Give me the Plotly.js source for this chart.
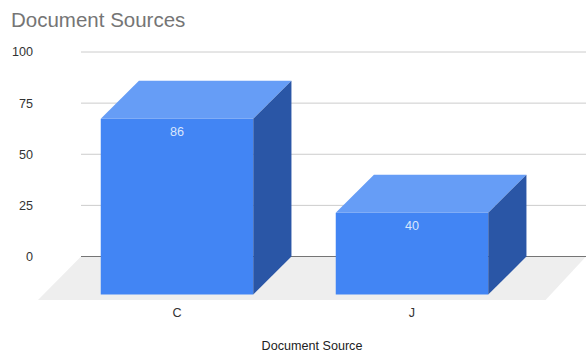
<!DOCTYPE html>
<html>
<head>
<meta charset="utf-8">
<script src="https://cdn.plot.ly/plotly-3.0.1.min.js"></script>
<style>html,body{margin:0;padding:0;background:#fff}</style>
</head>
<body>
<div id="chart" style="width:586px;height:354px"></div>
<script>
// Chart data
const categories = ["C", "J"];
const documentCounts = [86, 40];
const yTicks = [0, 25, 50, 75, 100];

// Oblique projection: how far the front plane sits from the back plane, in axis units
const depthX = 0.1625;
const depthY = 18.6;
const barWidth = 0.649;
const xRange = [-0.5915, 1.7404];
const yRange = [-21.27, 105.87];
const gridStartX = -0.4085;
const fontFamily = "'Liberation Sans', Arial, sans-serif";

const positions = categories.map((_, i) => i);
const half = barWidth / 2;

function face(xs, ys, color) {
  return {
    type: "scatter", mode: "lines", x: xs, y: ys, fill: "toself",
    fillcolor: color, line: { width: 0, color: color },
    hoverinfo: "skip", showlegend: false
  };
}

// Front faces are real bars standing on the front plane
const frontBars = {
  type: "bar",
  x: positions,
  y: documentCounts,
  base: documentCounts.map(() => -depthY),
  width: barWidth,
  marker: { color: "#4285f4", line: { width: 0 } },
  hoverinfo: "skip",
  showlegend: false
};

// Top and side faces of each box
const topFaces = positions.map((p, i) => {
  const v = documentCounts[i];
  return face(
    [p - half, p + half, p + half + depthX, p - half + depthX, p - half],
    [v - depthY, v - depthY, v, v, v - depthY],
    "#669df6"
  );
});
const sideFaces = positions.map((p, i) => {
  const v = documentCounts[i];
  return face(
    [p + half, p + half + depthX, p + half + depthX, p + half, p + half],
    [v - depthY, v, 0, -depthY, v - depthY],
    "#2a56a6"
  );
});

// Value labels sit just under the top edge of each front face
const valueLabels = positions.map((p, i) => ({
  x: p, y: documentCounts[i] - depthY, xref: "x", yref: "y",
  text: String(documentCounts[i]), showarrow: false,
  xanchor: "center", yanchor: "middle", yshift: -13.5,
  font: { family: fontFamily, size: 12.6, color: "#d9e6fc" }
}));

// Floor parallelogram plus gridlines, kept underneath the bars
const floorFrontRight = 1.5685;
const floorShape = {
  type: "path", layer: "below", xref: "x", yref: "y",
  path: `M ${xRange[0]} ${yRange[0]} L ${floorFrontRight} ${yRange[0]} L ${xRange[1]} 0 L ${gridStartX} 0 Z`,
  fillcolor: "#eeeeee", line: { width: 0 }
};
const gridShapes = yTicks.map(t => ({
  type: "line", layer: "below", xref: "x", yref: "y",
  x0: gridStartX, x1: xRange[1], y0: t, y1: t,
  line: { color: t === 0 ? "#757575" : "#cccccc", width: 1 }
}));

const layout = {
  width: 586, height: 354,
  margin: { l: 38, r: 0, t: 40, b: 54, pad: 0 },
  paper_bgcolor: "#ffffff", plot_bgcolor: "#ffffff",
  showlegend: false,
  title: {
    text: "Document Sources",
    x: 11 / 586, xanchor: "left", xref: "container",
    y: 1 - 20 / 354, yanchor: "middle", yref: "container",
    font: { family: fontFamily, size: 20.5, color: "#757575" }
  },
  xaxis: {
    range: xRange, tickmode: "array", tickvals: positions, ticktext: categories,
    showgrid: false, zeroline: false, showline: false, ticks: "",
    ticklabelstandoff: 3,
    tickfont: { family: fontFamily, size: 12.6, color: "#333333" },
    title: {
      text: "Document Source", standoff: 22,
      font: { family: fontFamily, size: 12.6, color: "#222222" }
    }
  },
  yaxis: {
    range: yRange, tickmode: "array", tickvals: yTicks, ticktext: yTicks.map(String),
    showgrid: false, zeroline: false, showline: false, ticks: "",
    ticklabelstandoff: 4,
    tickfont: { family: fontFamily, size: 12.6, color: "#333333" }
  },
  shapes: [floorShape, ...gridShapes],
  annotations: valueLabels
};

Plotly.newPlot("chart", [frontBars, ...topFaces, ...sideFaces], layout, { displayModeBar: false, staticPlot: true });
</script>
</body>
</html>
